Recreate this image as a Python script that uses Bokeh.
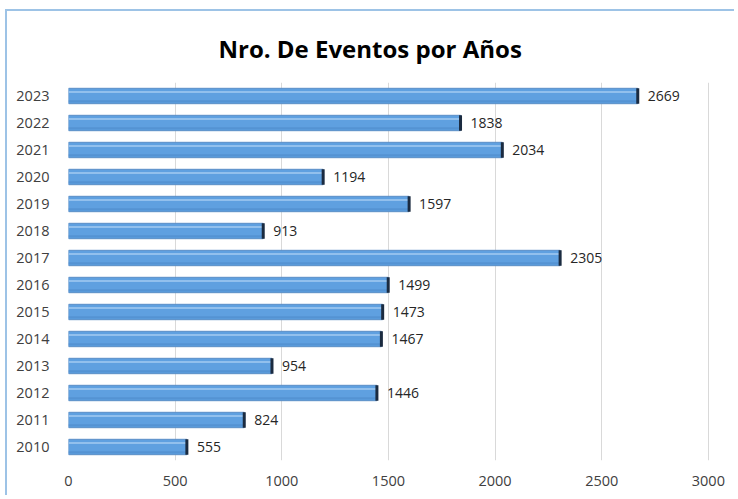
from bokeh.plotting import figure
from bokeh.models import ColumnDataSource, FactorRange, Range1d, FixedTicker
from bokeh.transform import dodge
from bokeh.core.properties import value
from bokeh.embed import file_html
from bokeh.resources import INLINE

years = ["2010", "2011", "2012", "2013", "2014", "2015", "2016",
         "2017", "2018", "2019", "2020", "2021", "2022", "2023"]
events = [555, 824, 1446, 954, 1467, 1473, 1499,
          2305, 913, 1597, 1194, 2034, 1838, 2669]
x_ticks = [0, 500, 1000, 1500, 2000, 2500, 3000]
title_text = "Nro. De Eventos por Años"

src = ColumnDataSource(dict(year=years, ev=events, lbl=[str(v) for v in events]))

W, H = 729, 486
L, R, T, B = 61, 26, 71, 37
p = figure(width=W, height=H, output_backend="svg", toolbar_location=None,
           y_range=FactorRange(factors=years, range_padding=0),
           x_range=Range1d(0, 3010),
           min_border_left=L, min_border_right=R, min_border_top=T, min_border_bottom=B,
           title=title_text)
p.styles = {"border-left": "2px solid #9DC3E6", "border-top": "2px solid #9DC3E6",
            "margin-left": "5px", "margin-top": "9px"}
p.outline_line_color = None
p.background_fill_color = "white"
p.border_fill_color = "white"

p.title.align = "left"
p.title.offset = 150
p.title.text_font = "Open Sans"
p.title.text_font_size = "24px"
p.title.text_font_style = "bold"
p.title.text_color = "#000000"
p.title.standoff = 36

# grid
p.ygrid.grid_line_color = None
p.xgrid.grid_line_color = "#D9D9D9"
p.xgrid.grid_line_width = 1
p.xaxis.ticker = FixedTicker(ticks=x_ticks)

for ax in (p.xaxis, p.yaxis):
    ax.axis_line_color = None
    ax.major_tick_line_color = None
    ax.minor_tick_line_color = None
    ax.major_label_text_font = "Open Sans"
    ax.major_label_text_font_size = "14.5px"
    ax.major_label_text_color = "#404040"
p.xaxis.major_label_standoff = 9
p.yaxis.major_label_standoff = 13

bh = 0.57
# base bar
p.hbar(y="year", right="ev", left=0, height=bh, source=src,
       fill_color="#5FA0E0", line_color="#5A8EC6", line_width=1)
# lower slightly darker band
p.hbar(y=dodge("year", -0.2, range=p.y_range), right="ev", left=0, height=0.09,
       source=src, fill_color="#5493D3", line_color=None)
# light highlight stripe
p.hbar(y=dodge("year", 0.15, range=p.y_range), right="ev", left=0, height=0.06,
       source=src, fill_color="#A3CBF2", line_color=None)
# end cap
p.rect(x="ev", y="year", width=3, width_units="screen", height=bh, source=src,
       fill_color="#1B2B40", line_color=None)

p.text(x="ev", y="year", text="lbl", source=src, x_offset=10,
       text_baseline="middle", text_align="left",
       text_font=value("Open Sans"), text_font_size="14px", text_color="#262626")

open("out.html", "w").write(file_html(p, INLINE))
